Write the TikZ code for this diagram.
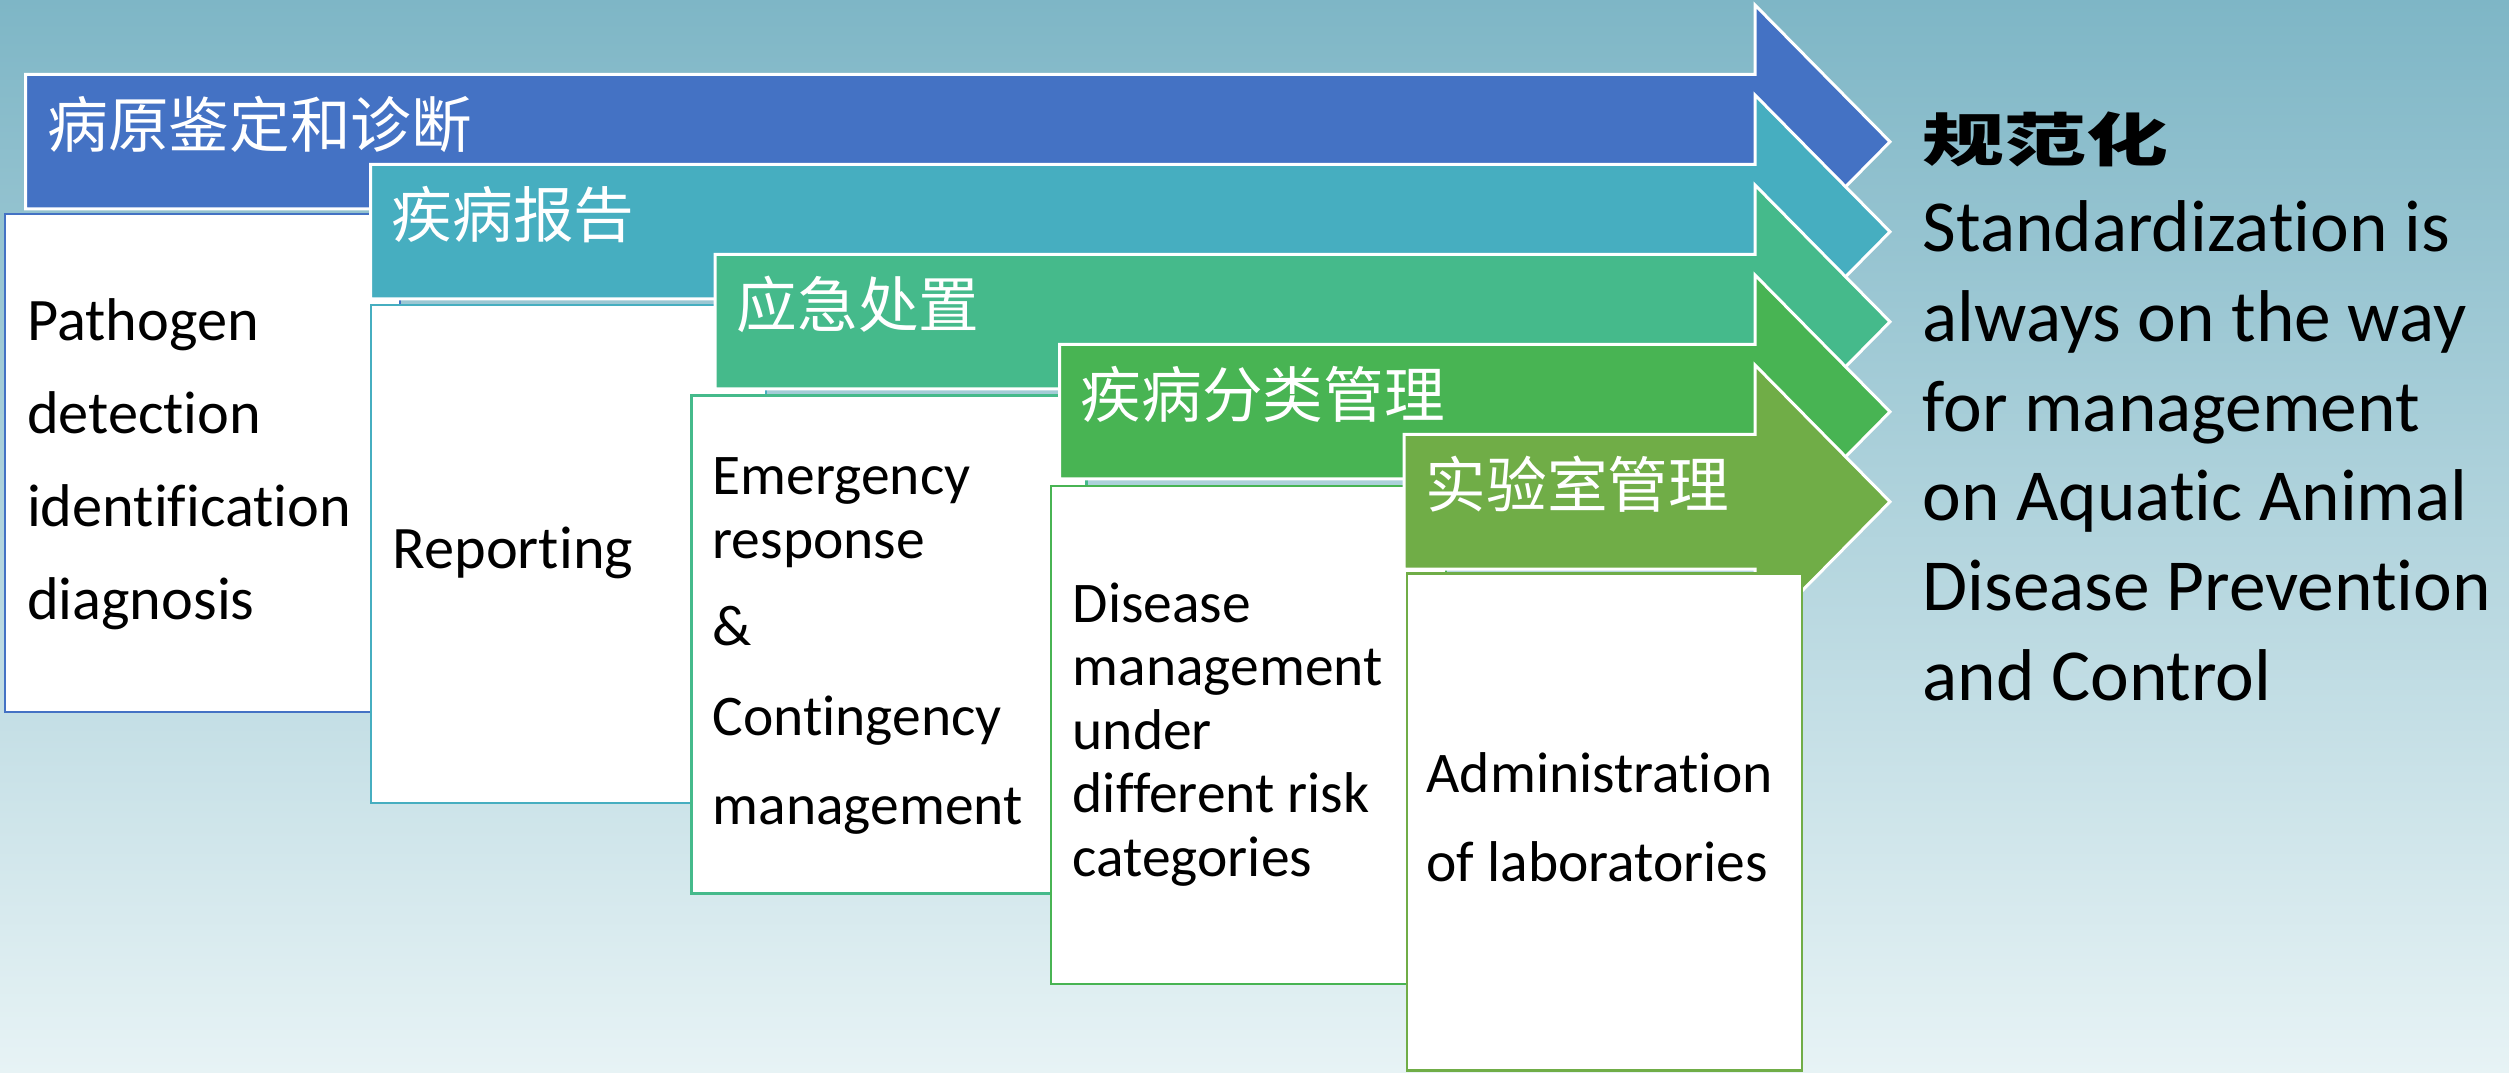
\documentclass[tikz,border=0pt]{standalone}
\usepackage{fontspec}
\setmainfont{Carlito}[Ligatures={NoCommon}]
\newfontfamily\cjk{Noto Sans CJK SC}
\newfontfamily\cjkwide[FakeStretch=1.42]{Noto Sans CJK SC}
\definecolor{bgtop}{HTML}{7EB6C6}
\definecolor{bgmid}{HTML}{BFDFE5}
\definecolor{bgbot}{HTML}{E7F3F5}
\definecolor{c1}{HTML}{4472C4}
\definecolor{c2}{HTML}{46AEC0}
\definecolor{c3}{HTML}{45BA8B}
\definecolor{c4}{HTML}{48B453}
\definecolor{c5}{HTML}{70AD47}
\newcommand\arrowpath[3]{%
  \path[arrowshape=#3] (#1,#2) -- (1755,#2) -- (1755,#2-69.5) -- (1890,#2+67.25)
    -- (1755,#2+204) -- (1755,#2+134.5) -- (#1,#2+134.5) -- cycle;}
\tikzset{
  arrowshape/.style={fill=#1, draw=white, line width=0.9pt, line join=miter},
  boxshape/.style={fill=white, draw=#1, line width=0.8pt},
  cjklabel/.style={anchor=base west, text=white, inner sep=0pt,
    font=\cjk\fontsize{18.2}{22}\selectfont},
  boxtext/.style={anchor=base west, inner sep=0pt, text=black},
}
\begin{document}
\begin{tikzpicture}[x=0.3pt,y=-0.3pt]
\useasboundingbox (0,0) rectangle (2509,1073);
\shade[top color=bgtop, middle color=bgmid, bottom color=bgbot] (0,0) rectangle (2509,1073);

% step 1
\arrowpath{25.5}{74.5}{c1}
\node[cjklabel] (l1) at (47,147.5) {病原鉴定和诊断};
\path[boxshape=c1] (5,214) rectangle ++(395,498);
\node[boxtext] (t1) at (26.5,341) {\fontsize{18.1}{27.9}\selectfont
  \begin{tabular}[t]{@{}l@{}}Pathogen\\ detection\\ identification\\ diagnosis\end{tabular}};

% step 2
\arrowpath{370.5}{164.5}{c2}
\node[cjklabel] (l2) at (391,237.5) {疾病报告};
\path[boxshape=c2] (371,305) rectangle ++(395,498);
\node[boxtext] (t2) at (392,569) {\fontsize{18.1}{27.9}\selectfont Reporting};

% step 3
\arrowpath{715}{254.5}{c3}
\node[cjklabel] (l3) at (736,327.5) {应急处置};
\path[boxshape=c3] (691.5,395.5) rectangle ++(395,498);
\node[boxtext] (t3) at (712,494) {\fontsize{17.25}{19.5}\selectfont
  \begin{tabular}[t]{@{}l@{}}Emergency\\ response\\[6.6pt] \&\\[7.5pt] Contingency\\[7.2pt] management\end{tabular}};

% step 4
\arrowpath{1059.5}{344.5}{c4}
\node[cjklabel] (l4) at (1080,417.5) {疾病分类管理};
\path[boxshape=c4] (1051,486) rectangle ++(395,498);
\node[boxtext] (t4) at (1072,622) {\fontsize{17.25}{19.1}\selectfont
  \begin{tabular}[t]{@{}l@{}}Disease\\ management\\ under\\ different risk\\ categories\end{tabular}};

% step 5
\arrowpath{1404}{434.5}{c5}
\node[cjklabel] (l5) at (1425,507.5) {实验室管理};
\path[boxshape=c5] (1407,573.5) rectangle ++(395,497);
\node[boxtext] (t5) at (1426,792) {\fontsize{17.25}{26.7}\selectfont
  \begin{tabular}[t]{@{}l@{}}Administration\\ of laboratories\end{tabular}};

% conclusion
\node[anchor=base west, inner sep=0pt] (title) at (1922,162)
  {\cjkwide\bfseries\fontsize{17.3}{20}\selectfont 规范化};
\node[boxtext] (concl) at (1922,252) {\fontsize{22}{26.9}\selectfont
  \begin{tabular}[t]{@{}l@{}}Standardization is\\ always on the way\\ for management\\ on Aquatic Animal\\ Disease Prevention\\ and Control\end{tabular}};
\end{tikzpicture}
\end{document}
